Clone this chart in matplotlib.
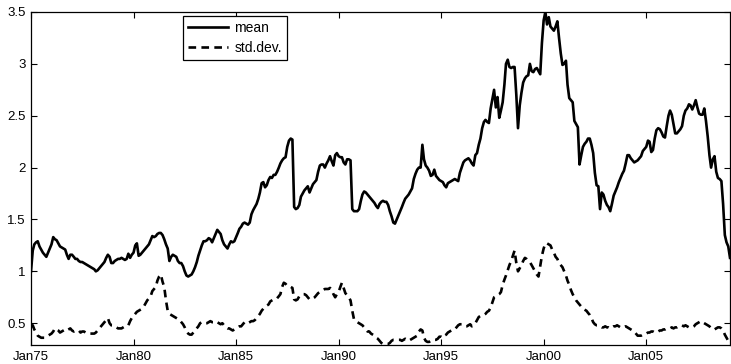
import numpy as np
import pandas as pd
import matplotlib
matplotlib.use("Agg")
import matplotlib.pyplot as plt
import matplotlib.dates as mdates

plt.rcParams['font.family'] = ['Liberation Sans', 'DejaVu Sans']
plt.rcParams['lines.scale_dashes'] = False

# Monthly cross-sectional mean, Jan 1975 - Feb 2009
mean_by_year = {
    1975: [1.00, 1.20, 1.26, 1.28, 1.29, 1.24, 1.21, 1.18, 1.16, 1.14, 1.18, 1.22],
    1976: [1.26, 1.33, 1.31, 1.30, 1.27, 1.24, 1.23, 1.22, 1.21, 1.16, 1.12, 1.16],
    1977: [1.16, 1.14, 1.12, 1.12, 1.10, 1.09, 1.09, 1.08, 1.07, 1.06, 1.05, 1.04],
    1978: [1.03, 1.02, 1.00, 1.01, 1.03, 1.05, 1.07, 1.09, 1.13, 1.16, 1.14, 1.08],
    1979: [1.08, 1.10, 1.11, 1.12, 1.12, 1.13, 1.12, 1.11, 1.12, 1.17, 1.13, 1.16],
    1980: [1.18, 1.25, 1.27, 1.15, 1.16, 1.18, 1.20, 1.22, 1.24, 1.26, 1.30, 1.34],
    1981: [1.33, 1.34, 1.36, 1.37, 1.37, 1.35, 1.31, 1.26, 1.22, 1.10, 1.14, 1.16],
    1982: [1.15, 1.14, 1.10, 1.08, 1.08, 1.05, 1.00, 0.96, 0.95, 0.96, 0.97, 1.00],
    1983: [1.04, 1.09, 1.15, 1.20, 1.25, 1.29, 1.29, 1.30, 1.32, 1.31, 1.28, 1.32],
    1984: [1.36, 1.40, 1.38, 1.36, 1.30, 1.26, 1.24, 1.22, 1.26, 1.29, 1.28, 1.29],
    1985: [1.33, 1.37, 1.41, 1.43, 1.46, 1.47, 1.46, 1.45, 1.47, 1.55, 1.59, 1.62],
    1986: [1.65, 1.70, 1.76, 1.85, 1.86, 1.81, 1.83, 1.88, 1.91, 1.90, 1.93, 1.93],
    1987: [1.96, 2.00, 2.04, 2.07, 2.09, 2.10, 2.20, 2.26, 2.28, 2.27, 1.62, 1.60],
    1988: [1.61, 1.64, 1.72, 1.75, 1.78, 1.80, 1.82, 1.76, 1.80, 1.84, 1.86, 1.88],
    1989: [1.96, 2.02, 2.03, 2.03, 2.00, 2.04, 2.07, 2.11, 2.06, 2.02, 2.12, 2.14],
    1990: [2.11, 2.10, 2.10, 2.05, 2.03, 2.08, 2.08, 2.07, 1.60, 1.58, 1.58, 1.58],
    1991: [1.60, 1.68, 1.74, 1.77, 1.76, 1.74, 1.72, 1.70, 1.68, 1.66, 1.63, 1.61],
    1992: [1.65, 1.67, 1.68, 1.67, 1.67, 1.64, 1.58, 1.53, 1.47, 1.46, 1.50, 1.54],
    1993: [1.58, 1.62, 1.66, 1.70, 1.72, 1.74, 1.77, 1.80, 1.89, 1.94, 1.98, 2.00],
    1994: [2.00, 2.22, 2.08, 2.02, 2.00, 1.97, 1.92, 1.93, 1.98, 1.92, 1.90, 1.88],
    1995: [1.87, 1.86, 1.83, 1.81, 1.85, 1.86, 1.87, 1.88, 1.89, 1.88, 1.87, 1.95],
    1996: [2.00, 2.05, 2.07, 2.08, 2.09, 2.07, 2.04, 2.02, 2.12, 2.14, 2.22, 2.28],
    1997: [2.38, 2.44, 2.46, 2.44, 2.43, 2.57, 2.66, 2.75, 2.58, 2.68, 2.48, 2.55],
    1998: [2.63, 2.80, 3.00, 3.04, 2.97, 2.96, 2.97, 2.97, 2.70, 2.38, 2.60, 2.72],
    1999: [2.82, 2.86, 2.88, 2.89, 3.00, 2.93, 2.92, 2.95, 2.96, 2.93, 2.90, 3.20],
    2000: [3.42, 3.50, 3.38, 3.45, 3.36, 3.34, 3.32, 3.36, 3.41, 3.25, 3.10, 2.99],
    2001: [3.00, 3.03, 2.80, 2.67, 2.65, 2.63, 2.45, 2.42, 2.39, 2.03, 2.12, 2.20],
    2002: [2.23, 2.25, 2.28, 2.28, 2.22, 2.14, 1.95, 1.83, 1.82, 1.60, 1.76, 1.74],
    2003: [1.68, 1.64, 1.62, 1.58, 1.65, 1.73, 1.77, 1.81, 1.86, 1.90, 1.94, 1.97],
    2004: [2.04, 2.12, 2.12, 2.09, 2.07, 2.05, 2.06, 2.07, 2.09, 2.11, 2.16, 2.18],
    2005: [2.20, 2.26, 2.25, 2.15, 2.17, 2.28, 2.36, 2.38, 2.37, 2.34, 2.30, 2.29],
    2006: [2.40, 2.50, 2.55, 2.51, 2.42, 2.33, 2.33, 2.35, 2.37, 2.40, 2.50, 2.55],
    2007: [2.57, 2.61, 2.60, 2.56, 2.60, 2.65, 2.58, 2.52, 2.51, 2.51, 2.57, 2.45],
    2008: [2.30, 2.12, 2.00, 2.08, 2.11, 1.96, 1.90, 1.89, 1.87, 1.65, 1.35, 1.28],
    2009: [1.24, 1.13],
}

# Monthly cross-sectional standard deviation, same months
std_by_year = {
    1975: [0.47, 0.48, 0.44, 0.41, 0.38, 0.37, 0.36, 0.36, 0.36, 0.37, 0.38, 0.39],
    1976: [0.40, 0.42, 0.45, 0.44, 0.43, 0.41, 0.42, 0.43, 0.44, 0.43, 0.44, 0.45],
    1977: [0.43, 0.42, 0.43, 0.43, 0.43, 0.41, 0.42, 0.42, 0.41, 0.40, 0.40, 0.40],
    1978: [0.40, 0.40, 0.41, 0.43, 0.45, 0.47, 0.49, 0.51, 0.53, 0.55, 0.50, 0.48],
    1979: [0.48, 0.47, 0.46, 0.45, 0.45, 0.45, 0.46, 0.47, 0.48, 0.48, 0.52, 0.55],
    1980: [0.57, 0.59, 0.61, 0.62, 0.63, 0.64, 0.66, 0.69, 0.72, 0.74, 0.76, 0.81],
    1981: [0.83, 0.85, 0.91, 0.95, 0.97, 0.90, 0.85, 0.72, 0.62, 0.59, 0.58, 0.57],
    1982: [0.56, 0.55, 0.54, 0.53, 0.51, 0.49, 0.46, 0.42, 0.40, 0.39, 0.39, 0.41],
    1983: [0.43, 0.45, 0.47, 0.50, 0.51, 0.51, 0.50, 0.50, 0.51, 0.52, 0.51, 0.51],
    1984: [0.52, 0.51, 0.50, 0.49, 0.50, 0.48, 0.46, 0.45, 0.45, 0.44, 0.43, 0.44],
    1985: [0.45, 0.46, 0.47, 0.47, 0.49, 0.51, 0.50, 0.50, 0.51, 0.52, 0.52, 0.53],
    1986: [0.55, 0.57, 0.59, 0.62, 0.64, 0.66, 0.67, 0.68, 0.71, 0.72, 0.73, 0.74],
    1987: [0.74, 0.76, 0.78, 0.85, 0.89, 0.88, 0.86, 0.86, 0.85, 0.84, 0.73, 0.72],
    1988: [0.73, 0.76, 0.77, 0.78, 0.78, 0.77, 0.75, 0.73, 0.74, 0.74, 0.75, 0.77],
    1989: [0.79, 0.80, 0.81, 0.82, 0.83, 0.83, 0.83, 0.84, 0.82, 0.78, 0.75, 0.78],
    1990: [0.80, 0.85, 0.89, 0.84, 0.79, 0.77, 0.75, 0.72, 0.62, 0.54, 0.52, 0.51],
    1991: [0.50, 0.49, 0.48, 0.46, 0.44, 0.42, 0.42, 0.40, 0.39, 0.38, 0.36, 0.35],
    1992: [0.33, 0.31, 0.30, 0.30, 0.30, 0.30, 0.31, 0.33, 0.34, 0.34, 0.34, 0.34],
    1993: [0.34, 0.33, 0.34, 0.35, 0.34, 0.33, 0.34, 0.35, 0.36, 0.37, 0.38, 0.42],
    1994: [0.44, 0.43, 0.36, 0.33, 0.32, 0.32, 0.33, 0.34, 0.34, 0.34, 0.35, 0.37],
    1995: [0.37, 0.36, 0.38, 0.39, 0.41, 0.42, 0.43, 0.44, 0.44, 0.46, 0.48, 0.49],
    1996: [0.49, 0.48, 0.47, 0.47, 0.48, 0.49, 0.47, 0.48, 0.50, 0.53, 0.56, 0.57],
    1997: [0.58, 0.58, 0.59, 0.61, 0.62, 0.65, 0.70, 0.75, 0.76, 0.77, 0.78, 0.80],
    1998: [0.87, 0.92, 0.96, 1.01, 1.06, 1.10, 1.15, 1.20, 1.08, 1.00, 1.03, 1.06],
    1999: [1.10, 1.13, 1.12, 1.10, 1.09, 1.06, 1.03, 1.00, 0.97, 0.95, 1.05, 1.15],
    2000: [1.22, 1.27, 1.27, 1.26, 1.25, 1.21, 1.18, 1.14, 1.12, 1.08, 1.06, 1.04],
    2001: [1.00, 0.96, 0.91, 0.87, 0.82, 0.78, 0.75, 0.72, 0.70, 0.68, 0.66, 0.64],
    2002: [0.63, 0.62, 0.60, 0.58, 0.55, 0.51, 0.49, 0.48, 0.48, 0.47, 0.46, 0.46],
    2003: [0.47, 0.46, 0.46, 0.45, 0.46, 0.47, 0.47, 0.48, 0.47, 0.46, 0.46, 0.46],
    2004: [0.47, 0.46, 0.45, 0.44, 0.43, 0.42, 0.40, 0.38, 0.38, 0.38, 0.39, 0.40],
    2005: [0.40, 0.41, 0.41, 0.42, 0.42, 0.41, 0.41, 0.42, 0.43, 0.43, 0.44, 0.44],
    2006: [0.45, 0.45, 0.45, 0.46, 0.45, 0.46, 0.46, 0.47, 0.48, 0.48, 0.47, 0.48],
    2007: [0.47, 0.46, 0.46, 0.46, 0.47, 0.49, 0.50, 0.51, 0.52, 0.51, 0.50, 0.49],
    2008: [0.48, 0.47, 0.45, 0.45, 0.44, 0.45, 0.46, 0.46, 0.45, 0.43, 0.39, 0.36],
    2009: [0.33, 0.31],
}

tick_years = [1975, 1980, 1985, 1990, 1995, 2000, 2005]
y_ticks = [0.5, 1, 1.5, 2, 2.5, 3, 3.5]
y_tick_labels = ['0.5', '1', '1.5', '2', '2.5', '3', '3.5']
series_labels = ['mean', 'std.dev.']

mean_vals = np.concatenate([mean_by_year[y] for y in sorted(mean_by_year)])
std_vals = np.concatenate([std_by_year[y] for y in sorted(std_by_year)])
dates = pd.date_range('1975-01-01', periods=len(mean_vals), freq='MS')

W, H = 731, 364
fig = plt.figure(figsize=(W / 100, H / 100), dpi=100)
ax = fig.add_axes([31 / W, (H - 345) / H, (730 - 31) / W, (345 - 12) / H])

ax.plot(dates, mean_vals, color='black', lw=1.9, label=series_labels[0])
ax.plot(dates, std_vals, color='black', lw=1.9, dashes=(5.5, 3.8),
        label=series_labels[1])

ax.set_xlim(dates[0], dates[-1])
ax.set_ylim(0.29, 3.5)

ax.set_xticks([pd.Timestamp(f'{y}-01-01') for y in tick_years])
ax.xaxis.set_major_formatter(mdates.DateFormatter('Jan%y'))
ax.set_yticks(y_ticks)
ax.set_yticklabels(y_tick_labels)

ax.tick_params(direction='in', length=4, width=0.8, top=True, right=True,
               labelsize=9.5, colors='black', pad=4)
for s in ax.spines.values():
    s.set_linewidth(0.9)
    s.set_color('black')

leg = ax.legend(loc='upper left', bbox_to_anchor=(183 / W, 1 - 16 / H),
                bbox_transform=fig.transFigure, borderaxespad=0,
                fontsize=10, handlelength=2.9, handletextpad=0.45,
                labelspacing=0.45, borderpad=0.35, fancybox=False,
                framealpha=1, edgecolor='black')
leg.get_frame().set_linewidth(0.9)

fig.savefig('out.png', dpi=100)
